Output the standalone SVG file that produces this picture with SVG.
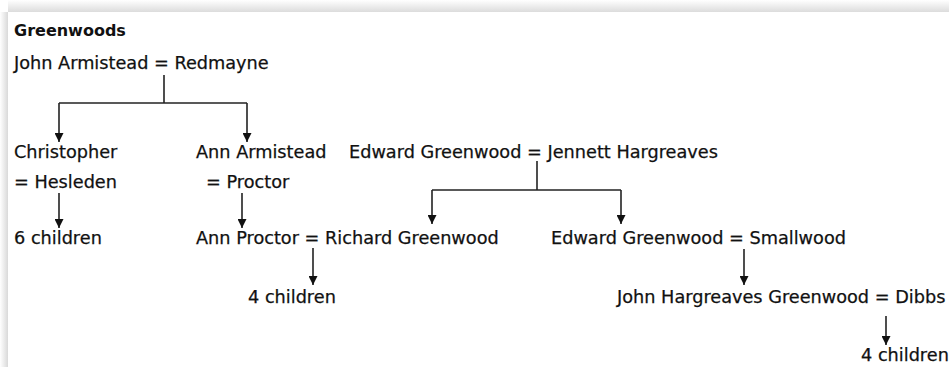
<svg xmlns="http://www.w3.org/2000/svg" width="949" height="367" viewBox="0 0 949 367">
<defs>
<style>
.t{font-family:"DejaVu Sans",Verdana,sans-serif;font-size:17.7px;fill:#111;stroke:#111;stroke-width:0.25}
.title{font-family:"DejaVu Sans",sans-serif;font-size:16px;font-weight:bold;fill:#111}
.c{fill:none;stroke:#222;stroke-width:1.6}
</style>
<marker id="ah" viewBox="0 0 10 10" refX="10" refY="5" markerWidth="9" markerHeight="9" markerUnits="userSpaceOnUse" orient="auto">
<path d="M0,0 L10,5 L0,10 Z" fill="#111"/>
</marker>
<linearGradient id="gl" x1="0" y1="0" x2="1" y2="0">
<stop offset="0" stop-color="#ffffff"/>
<stop offset="1" stop-color="#d9d9d9"/>
</linearGradient>
<linearGradient id="gt" x1="0" y1="0" x2="0" y2="1">
<stop offset="0" stop-color="#ffffff"/>
<stop offset="1" stop-color="#dcdcdc"/>
</linearGradient>
</defs>
<rect x="0" y="0" width="949" height="367" fill="#ffffff"/>
<rect x="0" y="12" width="8" height="355" fill="url(#gl)"/>
<rect x="8" y="0" width="941" height="12" fill="url(#gt)"/>
<rect x="8" y="12" width="941" height="355" fill="#ffffff"/>

<g id="title"><text class="title" x="14" y="36">Greenwoods</text></g>
<g id="john-armistead"><text class="t" x="14" y="69">John Armistead = Redmayne</text></g>
<g id="christopher"><text class="t" x="14" y="158">Christopher</text><text class="t" x="14" y="188">= Hesleden</text></g>
<g id="ann-armistead"><text class="t" x="196" y="158">Ann Armistead</text><text class="t" x="206" y="188">= Proctor</text></g>
<g id="edward-greenwood-sr"><text class="t" x="349" y="158">Edward Greenwood = Jennett Hargreaves</text></g>
<g id="six-children"><text class="t" x="14" y="244">6 children</text></g>
<g id="ann-proctor"><text class="t" x="196" y="244">Ann Proctor = Richard Greenwood</text></g>
<g id="edward-greenwood-jr"><text class="t" x="551" y="244">Edward Greenwood = Smallwood</text></g>
<g id="four-children-a"><text class="t" x="248" y="303">4 children</text></g>
<g id="john-hargreaves"><text class="t" x="617" y="303">John Hargreaves Greenwood = Dibbs</text></g>
<g id="four-children-b"><text class="t" x="861" y="361">4 children</text></g>

<g id="connectors">
<path class="c" d="M164,75 V103"/>
<path class="c" d="M59,103 H247"/>
<path class="c" d="M59,103 V142" marker-end="url(#ah)"/>
<path class="c" d="M247,103 V142" marker-end="url(#ah)"/>
<path class="c" d="M59,193 V228" marker-end="url(#ah)"/>
<path class="c" d="M242,193 V228" marker-end="url(#ah)"/>
<path class="c" d="M537,161 V190"/>
<path class="c" d="M432,190 H621"/>
<path class="c" d="M432,190 V224" marker-end="url(#ah)"/>
<path class="c" d="M621,190 V224" marker-end="url(#ah)"/>
<path class="c" d="M313,248 V285" marker-end="url(#ah)"/>
<path class="c" d="M744,249 V285" marker-end="url(#ah)"/>
<path class="c" d="M886,316 V345" marker-end="url(#ah)"/>
</g>
</svg>
